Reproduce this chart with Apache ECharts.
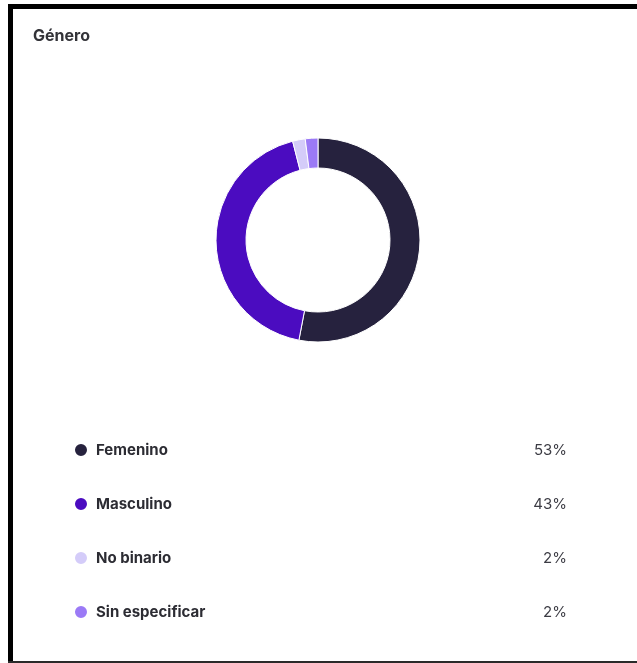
<!DOCTYPE html>
<html>
<head>
<meta charset="utf-8">
<title>Género</title>
<script src="https://cdn.jsdelivr.net/npm/echarts@6/dist/echarts.min.js"></script>
<style>
  html, body { margin: 0; padding: 0; background: #ffffff; }
  #chart { width: 637px; height: 663px; }
</style>
</head>
<body>
<div id="chart"></div>
<script>
// Gender breakdown (percent of respondents)
const categories = ['Femenino', 'Masculino', 'No binario', 'Sin especificar'];
const shares = [53, 43, 2, 2];
const colors = ['#26223e', '#4b0cc0', '#d4ccf9', '#9b7af6'];

const chart = echarts.init(document.getElementById('chart'), null, { renderer: 'canvas' });

const shareByName = {};
categories.forEach((c, i) => { shareByName[c] = shares[i]; });

const option = {
  animation: false,
  backgroundColor: '#ffffff',
  title: {
    text: 'Género',
    left: 28,
    top: 23,
    textStyle: {
      fontFamily: 'Inter, "Noto Sans", sans-serif',
      fontSize: 16,
      fontWeight: 700,
      color: '#333338'
    }
  },
  legend: {
    orient: 'vertical',
    left: 68,
    top: 437,
    icon: 'circle',
    itemWidth: 14,
    itemHeight: 14,
    itemGap: 38,
    selectedMode: false,
    data: categories,
    formatter: name => `{n|${name}}{v|${shareByName[name]}%}`,
    textStyle: {
      rich: {
        n: {
          fontFamily: 'Inter, "Noto Sans", sans-serif',
          fontSize: 15,
          fontWeight: 700,
          color: '#2c2c33',
          width: 421,
          lineHeight: 20,
          padding: [0, 0, 0, 3]
        },
        v: {
          fontFamily: 'Inter, "Noto Sans", sans-serif',
          fontSize: 15,
          fontWeight: 400,
          color: '#3c3c44',
          width: 50,
          align: 'right',
          lineHeight: 20
        }
      }
    }
  },
  graphic: [
    // frame strokes around the card
    { type: 'rect', left: 8, top: 4, shape: { width: 629, height: 5 }, style: { fill: '#000000' } },
    { type: 'rect', left: 8, top: 4, shape: { width: 5, height: 659 }, style: { fill: '#000000' } },
    { type: 'rect', left: 8, top: 661, shape: { width: 629, height: 2 }, style: { fill: '#2a2a2a' } }
  ],
  series: [{
    type: 'pie',
    center: [318, 240],
    radius: [72, 102],
    startAngle: 90,
    clockwise: true,
    silent: true,
    label: { show: false },
    labelLine: { show: false },
    itemStyle: { borderColor: '#ffffff', borderWidth: 1 },
    data: categories.map((c, i) => ({
      name: c,
      value: shares[i],
      itemStyle: { color: colors[i] }
    }))
  }]
};

chart.setOption(option);
</script>
</body>
</html>
